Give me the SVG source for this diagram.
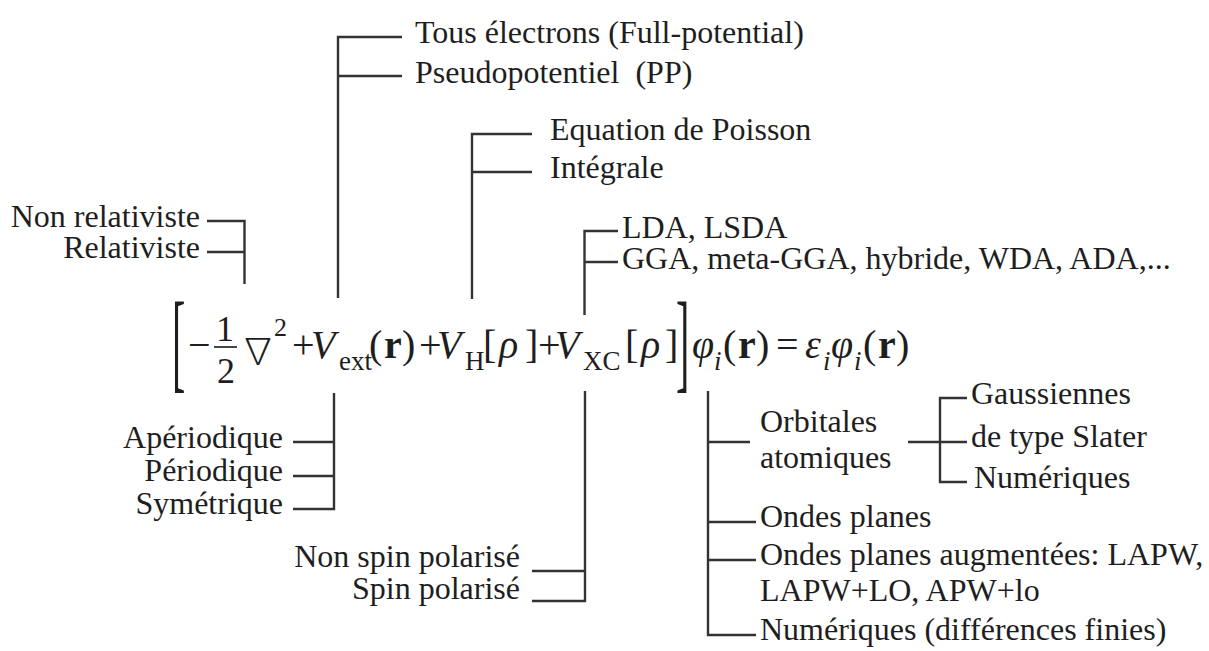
<svg xmlns="http://www.w3.org/2000/svg" width="1209" height="651" viewBox="0 0 1209 651">
<style>
.t{font-family:"Liberation Serif","Times New Roman",serif;font-size:32px;fill:#1e1e1e}
.e{font-family:"Liberation Serif","DejaVu Serif",serif;font-size:40px;fill:#1e1e1e}
.s{font-size:27px}
.i{font-style:italic}
.b{font-weight:bold}
.r{text-anchor:end}
.c{text-anchor:middle}
.l{stroke:#333;stroke-width:2.4;fill:none}
</style>
<rect width="1209" height="651" fill="#fff"/>
<g id="connectors" class="l">
<path d="M207 221H244.5V284M207 252H244.5"/>
<path d="M402 37H338V298M338 76H402"/>
<path d="M532 134H472V299M472 172H532"/>
<path d="M618 231H584.5V315M584.5 262H618"/>
<path d="M334 393V509H293M334 442H293M334 476H293"/>
<path d="M585 391V601H532M585 571H532"/>
<path d="M708 391V635H756M708 442H750M708 522H756M708 560H756"/>
<path d="M908 442H967M967 398H940V482H967"/>
<path d="M214 347H237" stroke-width="1.8"/>
</g>
<g id="equation" class="e">
<text transform="translate(172,378) scale(1,2.75)">[</text>
<text x="188" y="358">−</text>
<text x="225" y="341" class="c" font-size="36">1</text>
<text x="226" y="383" class="c" font-size="36">2</text>
<text x="240" y="364" font-family="Noto Sans CJK SC, DejaVu Sans, sans-serif" font-weight="300" font-size="36">∇</text>
<text x="274" y="336" font-size="26">2</text>
<text x="292" y="358">+</text>
<text x="311" y="358" class="i">V</text>
<text x="339" y="370" class="s">ext</text>
<text x="369" y="358">(</text>
<text x="384" y="358" class="b">r</text>
<text x="402" y="358">)</text>
<text x="419" y="358">+</text>
<text x="437" y="358" class="i">V</text>
<text x="465" y="370" class="s">H</text>
<text x="483" y="358">[</text>
<text x="499" y="358" class="i">ρ</text>
<text x="525" y="358">]</text>
<text x="538" y="358">+</text>
<text x="555" y="358" class="i">V</text>
<text x="583" y="370" class="s">XC</text>
<text x="625" y="358">[</text>
<text x="641" y="358" class="i">ρ</text>
<text x="665" y="358">]</text>
<text transform="translate(676,378) scale(1,2.75)">]</text>
<text x="692" y="358" class="i">φ</text>
<text x="714" y="370" class="s i">i</text>
<text x="723" y="358">(</text>
<text x="738" y="358" class="b">r</text>
<text x="756" y="358">)</text>
<text x="776" y="358">=</text>
<text x="805" y="358" class="i">ε</text>
<text x="823" y="370" class="s i">i</text>
<text x="831" y="358" class="i">φ</text>
<text x="854" y="370" class="s i">i</text>
<text x="863" y="358">(</text>
<text x="878" y="358" class="b">r</text>
<text x="896" y="358">)</text>
</g>
<g id="n-relativiste" class="t r">
<text x="200" y="227">Non relativiste</text>
<text x="200" y="258">Relativiste</text>
</g>
<g id="n-potentiel" class="t">
<text x="415" y="43">Tous électrons (Full-potential)</text>
<text x="415" y="83" xml:space="preserve">Pseudopotentiel  (PP)</text>
</g>
<g id="n-hartree" class="t">
<text x="550" y="140">Equation de Poisson</text>
<text x="550" y="178">Intégrale</text>
</g>
<g id="n-xc" class="t">
<text x="622" y="238">LDA, LSDA</text>
<text x="622" y="269">GGA, meta-GGA, hybride, WDA, ADA,...</text>
</g>
<g id="n-periodicite" class="t r">
<text x="283" y="448">Apériodique</text>
<text x="283" y="481">Périodique</text>
<text x="283" y="514">Symétrique</text>
</g>
<g id="n-spin" class="t r">
<text x="520" y="567">Non spin polarisé</text>
<text x="520" y="599">Spin polarisé</text>
</g>
<g id="n-orbitales" class="t">
<text x="760" y="432">Orbitales</text>
<text x="760" y="468">atomiques</text>
</g>
<g id="n-atomiques" class="t">
<text x="971" y="404">Gaussiennes</text>
<text x="971" y="447">de type Slater</text>
<text x="974" y="488">Numériques</text>
</g>
<g id="n-bases" class="t">
<text x="760" y="527">Ondes planes</text>
<text x="760" y="565">Ondes planes augmentées: LAPW,</text>
<text x="760" y="601">LAPW+LO, APW+lo</text>
<text x="760" y="640">Numériques (différences finies)</text>
</g>
</svg>
